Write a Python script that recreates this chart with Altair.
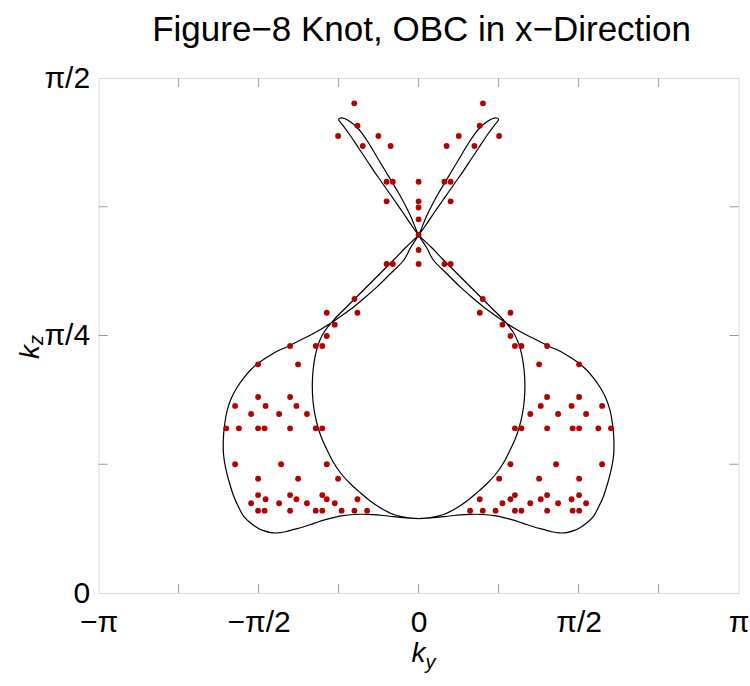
import altair as alt
import pandas as pd

title_text = "Figure\u22128 Knot, OBC in x\u2212Direction"

# axis ticks (units of pi)
x_tick_vals = [-1, -0.5, 0, 0.5, 1]
x_tick_text = ["\u2212\u03c0", "\u2212\u03c0/2", "0", "\u03c0/2", "\u03c0"]
y_tick_vals = [0, 0.25, 0.5]
y_tick_text = ["0", "\u03c0/4", "\u03c0/2"]
x_minor = [-0.75, -0.5, -0.25, 0, 0.25, 0.5, 0.75]
y_minor = [0.125, 0.25, 0.375]

# OBC spectrum points, rows of kz/pi with their ky/pi values
kz_rows = [0.4754, 0.4537, 0.4437, 0.4340, 0.3993, 0.3803, 0.3743, 0.3628, 0.3476,
           0.3330, 0.3194, 0.2854, 0.2721, 0.2605, 0.2495, 0.2398, 0.2220, 0.1903,
           0.1816, 0.1738, 0.1599, 0.1250, 0.1110, 0.0951, 0.0910, 0.0871, 0.0799]
ky_rows = [
    [-0.201, 0.201],
    [-0.191, 0.191],
    [-0.2516, -0.1256, 0.1256, 0.2516],
    [-0.1744, -0.0875, 0.0875, 0.1744],
    [-0.1, -0.0806, 0, 0.0806, 0.1],
    [-0.1, 0, 0.1],
    [0],
    [0],
    [0],
    [0],
    [-0.1, -0.0806, 0, 0.0806, 0.1],
    [-0.2005, 0.2005],
    [-0.287, -0.1911, 0.1911, 0.287],
    [-0.262, 0.262],
    [-0.287, 0.287],
    [-0.4016, -0.3214, -0.301, 0.301, 0.3214, 0.4016],
    [-0.5016, -0.3766, 0.3766, 0.5016],
    [-0.5016, -0.4016, 0.4016, 0.5016],
    [-0.5734, -0.4781, -0.3818, 0.3818, 0.4781, 0.5734],
    [-0.5234, -0.4359, -0.3489, 0.3489, 0.4359, 0.5234],
    [-0.6013, -0.5616, -0.5016, -0.4813, -0.4016, -0.3214, -0.301,
     0.301, 0.3214, 0.4016, 0.4813, 0.5016, 0.5616, 0.6013],
    [-0.5734, -0.4297, -0.287, 0.287, 0.4297, 0.5734],
    [-0.5016, -0.3766, -0.2516, 0.2516, 0.3766, 0.5016],
    [-0.5016, -0.4016, -0.301, 0.301, 0.4016, 0.5016],
    [-0.4781, -0.3818, -0.287, -0.1911, 0.1911, 0.287, 0.3818, 0.4781],
    [-0.5234, -0.4359, -0.3489, -0.262, 0.262, 0.3489, 0.4359, 0.5234],
    [-0.5016, -0.4813, -0.4016, -0.3214, -0.301, -0.2406, -0.2005, -0.1609,
     0.1609, 0.2005, 0.2406, 0.301, 0.3214, 0.4016, 0.4813, 0.5016],
]

# traced exceptional-line projection (units of pi), two halves of the closed curve
curve_a_ky = [0, -0.0375, -0.0781, -0.1188, -0.1531, -0.1813, -0.2125, -0.2438, -0.2688, -0.2859,
              -0.3031, -0.3156, -0.325, -0.3303, -0.3322, -0.3297, -0.3219, -0.3109, -0.2953, -0.2656,
              -0.2344, -0.2031, -0.1719, -0.1406, -0.1094, -0.0781, -0.0406, 0,
              0.025, 0.05, 0.0719, 0.0938, 0.1156, 0.1375, 0.1625, 0.1875, 0.2125, 0.2313, 0.2453, 0.25,
              0.2438, 0.2313, 0.2125, 0.1938, 0.175, 0.1563, 0.1375, 0.1188, 0.1, 0.0813, 0.0625,
              0.0438, 0.025, 0,
              -0.025, -0.0459, -0.0875, -0.1291, -0.1656, -0.2022, -0.2375, -0.275, -0.3063, -0.3375,
              -0.375, -0.4103, -0.4438, -0.4728, -0.5, -0.525, -0.5469, -0.5666, -0.5844, -0.5978,
              -0.6063, -0.6103, -0.6094, -0.6031, -0.5928, -0.5772, -0.5625, -0.5459, -0.525, -0.5041,
              -0.4844, -0.4625, -0.4406, -0.4156, -0.3897, -0.3656, -0.3375, -0.3125, -0.2853, -0.2625,
              -0.2406, -0.2031, -0.1603, -0.1188, -0.0781, -0.0375, 0]
curve_a_kz = [0.0723, 0.0733, 0.0762, 0.0825, 0.0898, 0.0971, 0.1058, 0.1165, 0.1282, 0.1388,
              0.1505, 0.1621, 0.1748, 0.1874, 0.2019, 0.2165, 0.2320, 0.2437, 0.2534, 0.2650,
              0.2748, 0.2845, 0.2942, 0.3039, 0.3136, 0.3233, 0.3354, 0.3476,
              0.3583, 0.3699, 0.3796, 0.3893, 0.3990, 0.4087, 0.4204, 0.4320, 0.4437, 0.4519, 0.4573, 0.4597,
              0.4612, 0.4607, 0.4573, 0.4524, 0.4456, 0.4369, 0.4272, 0.4175, 0.4078, 0.3981, 0.3883,
              0.3777, 0.3660, 0.3476,
              0.3354, 0.3233, 0.3102, 0.2974, 0.2874, 0.2780, 0.2699, 0.2618, 0.2558, 0.2505,
              0.2447, 0.2391, 0.2345, 0.2291, 0.2233, 0.2165, 0.2087, 0.2000, 0.1898, 0.1777,
              0.1631, 0.1485, 0.1340, 0.1214, 0.1087, 0.0935, 0.0835, 0.0741, 0.0680, 0.0634,
              0.0605, 0.0587, 0.0583, 0.0595, 0.0617, 0.0636, 0.0665, 0.0692, 0.0717, 0.0735,
              0.0748, 0.0762, 0.0764, 0.0755, 0.0741, 0.0730, 0.0723]
curve_b_ky = [0, 0.0375, 0.0781, 0.1188, 0.1531, 0.1813, 0.2125, 0.2438, 0.2688, 0.2859,
              0.3031, 0.3156, 0.325, 0.3303, 0.3322, 0.3297, 0.3219, 0.3109, 0.2953, 0.2656,
              0.2344, 0.2031, 0.1719, 0.1406, 0.1094, 0.0781, 0.0406, 0,
              -0.025, -0.05, -0.0719, -0.0938, -0.1156, -0.1375, -0.1625, -0.1875, -0.2125, -0.2313, -0.2453, -0.25,
              -0.2438, -0.2313, -0.2125, -0.1938, -0.175, -0.1563, -0.1375, -0.1188, -0.1, -0.0813, -0.0625,
              -0.0438, -0.025, 0,
              0.025, 0.0459, 0.0875, 0.1291, 0.1656, 0.2022, 0.2375, 0.275, 0.3063, 0.3375,
              0.375, 0.4103, 0.4438, 0.4728, 0.5, 0.525, 0.5469, 0.5666, 0.5844, 0.5978,
              0.6063, 0.6103, 0.6094, 0.6031, 0.5928, 0.5772, 0.5625, 0.5459, 0.525, 0.5041,
              0.4844, 0.4625, 0.4406, 0.4156, 0.3897, 0.3656, 0.3375, 0.3125, 0.2853, 0.2625,
              0.2406, 0.2031, 0.1603, 0.1188, 0.0781, 0.0375, 0]
curve_b_kz = curve_a_kz

# ---------- tables ----------
pts = pd.DataFrame(
    [{"ky": x, "kz": z} for z, row in zip(kz_rows, ky_rows) for x in row]
)
curve = pd.DataFrame(
    [{"ky": x, "kz": z, "seg": "a", "i": i} for i, (x, z) in enumerate(zip(curve_a_ky, curve_a_kz))]
    + [{"ky": x, "kz": z, "seg": "b", "i": i} for i, (x, z) in enumerate(zip(curve_b_ky, curve_b_kz))]
)
xt = pd.DataFrame({"ky": x_minor})
yt = pd.DataFrame({"kz": y_minor})

W, H = 640, 515
FONT = "Liberation Sans"
FRAME = "#9b9b9b"
TICK = 9
LABEL_SIZE = 30


def label_expr(vals, texts):
    parts = [f"datum.value == {v} ? '{t}'" for v, t in zip(vals, texts)]
    return " : ".join(parts) + " : ''"


xscale = alt.Scale(domain=[-1, 1], nice=False, zero=False)
yscale = alt.Scale(domain=[0, 0.5], nice=False, zero=False)

xaxis = alt.Axis(values=x_tick_vals, labelExpr=label_expr(x_tick_vals, x_tick_text), title=None,
                 grid=False, domain=False, ticks=False, tickSize=0, labelFontSize=LABEL_SIZE, labelFont=FONT,
                 labelColor="black", labelPadding=14, labelFlush=False, labelOverlap=False)
yaxis = alt.Axis(values=y_tick_vals, labelExpr=label_expr(y_tick_vals, y_tick_text), title=None,
                 grid=False, domain=False, ticks=False, tickSize=0, labelFontSize=LABEL_SIZE, labelFont=FONT,
                 labelColor="black", labelPadding=9, labelFlush=False, labelOverlap=False)

lines = alt.Chart(curve).mark_line(color="black", strokeWidth=1.2, interpolate="catmull-rom").encode(
    x=alt.X("ky:Q", scale=xscale, axis=xaxis),
    y=alt.Y("kz:Q", scale=yscale, axis=yaxis),
    detail="seg:N",
    order="i:Q",
)

points = alt.Chart(pts).mark_circle(color="#b40000", size=34, opacity=1).encode(
    x=alt.X("ky:Q", scale=xscale),
    y=alt.Y("kz:Q", scale=yscale),
)

tick_b = alt.Chart(xt).mark_rule(color=FRAME, strokeWidth=1).encode(
    x="ky:Q", y=alt.value(H), y2=alt.value(H - TICK))
tick_t = alt.Chart(xt).mark_rule(color=FRAME, strokeWidth=1).encode(
    x="ky:Q", y=alt.value(0), y2=alt.value(TICK))
tick_l = alt.Chart(yt).mark_rule(color=FRAME, strokeWidth=1).encode(
    y="kz:Q", x=alt.value(0), x2=alt.value(TICK))
tick_r = alt.Chart(yt).mark_rule(color=FRAME, strokeWidth=1).encode(
    y="kz:Q", x=alt.value(W), x2=alt.value(W - TICK))

title = alt.Chart(pd.DataFrame({"t": [title_text]})).mark_text(
    font=FONT, fontSize=35, align="center", baseline="alphabetic", color="black"
).encode(text="t:N", x=alt.value(W / 2 + 3), y=alt.value(-37))

kx_main = alt.Chart(pd.DataFrame({"t": ["k"]})).mark_text(
    font=FONT, fontSize=28, fontStyle="italic", align="right", baseline="alphabetic", color="black"
).encode(text="t:N", x=alt.value(327), y=alt.value(584))
kx_sub = alt.Chart(pd.DataFrame({"t": ["y"]})).mark_text(
    font=FONT, fontSize=20, fontStyle="italic", align="left", baseline="alphabetic", color="black"
).encode(text="t:N", x=alt.value(327), y=alt.value(591))

kz_main = alt.Chart(pd.DataFrame({"t": ["k"]})).mark_text(
    font=FONT, fontSize=28, fontStyle="italic", align="right", baseline="alphabetic", color="black",
    angle=270
).encode(text="t:N", x=alt.value(-60), y=alt.value(267))
kz_sub = alt.Chart(pd.DataFrame({"t": ["z"]})).mark_text(
    font=FONT, fontSize=20, fontStyle="italic", align="left", baseline="alphabetic", color="black",
    angle=270
).encode(text="t:N", x=alt.value(-56), y=alt.value(267))

chart = alt.layer(
    lines, points, tick_b, tick_t, tick_l, tick_r, title, kx_main, kx_sub, kz_main, kz_sub
).properties(
    width=W, height=H,
    autosize=alt.AutoSizeParams(type="none"),
    padding={"left": 98.6, "top": 78, "right": 11.4, "bottom": 93},
).configure_view(
    stroke=FRAME, strokeWidth=1
).configure(background="white")

chart.save("out.html", embed_options={"renderer": "svg", "actions": False})
